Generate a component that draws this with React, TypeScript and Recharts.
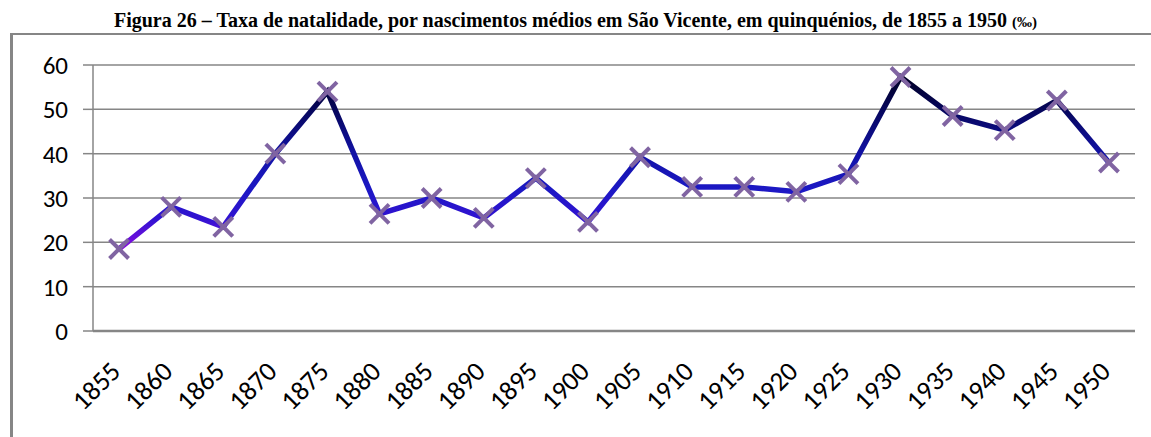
import { LineChart, Line, XAxis, YAxis, CartesianGrid } from "recharts";

const years = [
  1855, 1860, 1865, 1870, 1875, 1880, 1885, 1890, 1895, 1900,
  1905, 1910, 1915, 1920, 1925, 1930, 1935, 1940, 1945, 1950,
];
const natalidade = [
  18.5, 28, 23.5, 40, 54, 26.4, 30, 25.5, 34.5, 24.6,
  39.2, 32.5, 32.5, 31.4, 35.4, 57.3, 48.5, 45.3, 52, 38,
];
const yTicks = [0, 10, 20, 30, 40, 50, 60];
// category boundaries (Excel puts tick marks between the categories)
const bounds = [...years.map((y) => y - 2.5), 1952.5];

const data = years.map((y, i) => ({ year: y, taxa: natalidade[i] }));

const GRAY = "#868686";
const FONT = "Carlito, Calibri, 'Open Sans', sans-serif";

const Cross = (props: any) => {
  const { cx, cy } = props;
  if (cx == null || cy == null) return null;
  const r = 9.5;
  return (
    <g stroke="#8064a2" strokeWidth={4}>
      <line x1={cx - r} y1={cy - r} x2={cx + r} y2={cy + r} />
      <line x1={cx - r} y1={cy + r} x2={cx + r} y2={cy - r} />
    </g>
  );
};

const YearTick = (props: any) => {
  const { x, y, payload } = props;
  return (
    <g transform={`translate(${x + 3},${y + 24})`}>
      <text
        textAnchor="end"
        transform="rotate(-45)"
        fontSize={27}
        fontFamily={FONT}
        fill="#000"
      >
        {payload.value}
      </text>
    </g>
  );
};

export default function App() {
  return (
    <div
      style={{
        position: "absolute",
        left: 0,
        top: 0,
        width: 1151,
        height: 437,
        overflow: "hidden",
        background: "#fff",
      }}
    >
      <div
        style={{
          position: "absolute",
          left: 0,
          top: 9,
          width: 1151,
          textAlign: "center",
          fontFamily: "'Liberation Serif', 'Times New Roman', serif",
          fontWeight: 700,
          fontSize: 20,
          lineHeight: "23px",
          whiteSpace: "nowrap",
        }}
      >
        Figura 26 – Taxa de natalidade, por nascimentos médios em São Vicente, em quinquénios, de 1855 a 1950{" "}
        <span style={{ fontSize: 15 }}>(‰)</span>
      </div>
      <div
        style={{
          position: "absolute",
          left: 10,
          top: 33,
          width: 1300,
          height: 600,
          borderLeft: `3px solid ${GRAY}`,
          borderTop: `2px solid ${GRAY}`,
        }}
      />
      <div style={{ position: "absolute", left: 0, top: 0 }}>
        <LineChart
          width={1151}
          height={437}
          data={data}
          margin={{ top: 65, right: 16, bottom: 0, left: 0 }}
        >
          <defs>
            <linearGradient id="lineGrad" x1="0" y1="0" x2="0" y2="1">
              <stop offset="0" stopColor="#000024" />
              <stop offset="0.19" stopColor="#06065c" />
              <stop offset="0.45" stopColor="#1212a6" />
              <stop offset="0.65" stopColor="#1c18c4" />
              <stop offset="0.83" stopColor="#3212d2" />
              <stop offset="0.92" stopColor="#6010da" />
              <stop offset="1" stopColor="#8a0ae0" />
            </linearGradient>
          </defs>
          <CartesianGrid vertical={false} stroke={GRAY} strokeWidth={1.5} />
          <XAxis
            xAxisId="bounds"
            dataKey="year"
            type="number"
            domain={[1852.5, 1952.5]}
            ticks={bounds}
            tick={false}
            tickSize={9}
            height={10}
            axisLine={{ stroke: GRAY, strokeWidth: 2.5 }}
            tickLine={{ stroke: GRAY, strokeWidth: 1.5 }}
            interval={0}
          />
          <XAxis
            xAxisId="labels"
            dataKey="year"
            type="number"
            domain={[1852.5, 1952.5]}
            ticks={years}
            interval={0}
            axisLine={false}
            tickLine={false}
            height={96}
            tick={<YearTick />}
          />
          <YAxis
            domain={[0, 60]}
            ticks={yTicks}
            interval={0}
            width={93}
            tickSize={10}
            tickMargin={15}
            axisLine={{ stroke: GRAY, strokeWidth: 1.5 }}
            tickLine={{ stroke: GRAY, strokeWidth: 1.5 }}
            tick={{ fontSize: 25, fontFamily: FONT, fill: "#000" }}
          />
          <Line
            xAxisId="labels"
            dataKey="taxa"
            type="linear"
            stroke="url(#lineGrad)"
            strokeWidth={5.5}
            dot={<Cross />}
            activeDot={false}
            isAnimationActive={false}
          />
        </LineChart>
      </div>
    </div>
  );
}
